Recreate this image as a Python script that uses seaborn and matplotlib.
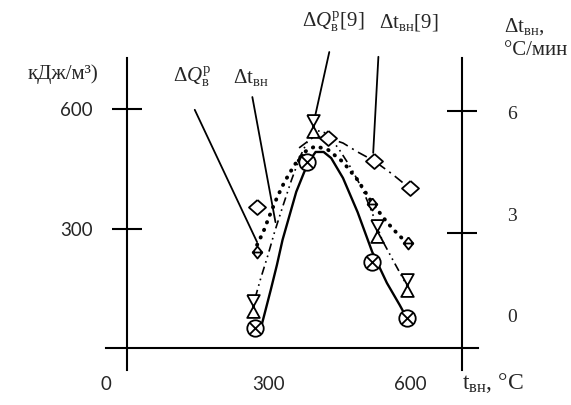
import numpy as np
import matplotlib
matplotlib.use("Agg")
import matplotlib.pyplot as plt
from matplotlib.path import Path
import seaborn as sns

# --- data ---
# dQ (kJ/m3, left axis)
dq_x = [275, 370, 519, 594]
dq_y = [241, 472, 362, 264]
dq_curve_x = [275, 288, 302, 317, 333, 354, 375, 399, 426, 457, 488, 519, 550, 577, 594]
dq_curve_y = [259, 291, 334, 377, 417, 459, 492, 507, 497, 467, 422, 364, 316, 281, 264]

dq9_x = [267, 393, 530, 592]
dq9_y = [105, 557, 294, 158]
dq9_curve_x = [271, 283, 298, 312, 329, 348, 366, 385, 399, 420, 447, 474, 499, 519, 540, 565, 592]
dq9_curve_y = [126, 176, 233, 291, 354, 422, 480, 527, 547, 540, 502, 452, 397, 339, 271, 216, 158]

# dt (degC/min, right axis)
dt_x = [271, 381, 519, 592]
dt_y = [0.66, 4.74, 2.29, 0.91]
dt_curve_x = [281, 292, 304, 317, 329, 344, 358, 375, 387, 399, 416, 432, 457, 488, 519, 550, 577, 592]
dt_curve_y = [0.57, 1.06, 1.60, 2.21, 2.83, 3.44, 4.01, 4.50, 4.79, 4.99, 4.99, 4.84, 4.35, 3.51, 2.53, 1.77, 1.23, 0.91]

dt9_x = [275, 426, 523, 598]
dt9_y = [3.64, 5.33, 4.77, 4.10]
dt9_curve_x = [364, 395, 426, 457, 488, 523, 561, 598]
dt9_curve_y = [5.09, 5.36, 5.33, 5.21, 4.99, 4.77, 4.45, 4.10]

x_ticks = [300, 600]
x_tick_labels = ["300", "600"]
left_ticks = [300, 600]
left_tick_labels = ["300", "600"]
right_ticks = [3, 6]
right_label_pos = [0.96, 3.46, 5.97]
right_labels = ["0", "3", "6"]

# --- markers ---
M, L = Path.MOVETO, Path.LINETO
circ = Path.unit_circle()
cross = Path([(-0.7, -0.7), (0.7, 0.7), (-0.7, 0.7), (0.7, -0.7)], [M, L, M, L])
otimes = Path.make_compound_path(circ, cross)
hourglass = Path([(-0.55, 1), (0.55, 1), (-0.55, -1), (0.55, -1), (-0.55, 1)])
big_diamond = Path([(0, 0.88), (1, 0), (0, -0.88), (-1, 0), (0, 0.88)])
bar_diamond = Path([(0, 1), (0.8, 0), (0, -1), (-0.8, 0), (0, 1), (-0.8, 0), (0.8, 0)],
                   [M, L, L, L, L, M, L])

sns.set_style("white")
plt.rcParams["font.family"] = ["Liberation Serif", "DejaVu Serif"]
plt.rcParams["mathtext.fontset"] = "custom"
plt.rcParams["mathtext.rm"] = "Liberation Serif"
plt.rcParams["mathtext.it"] = "Liberation Serif:italic"

fig = plt.figure(figsize=(5.71, 4.05), dpi=100)
ax = fig.add_axes([106 / 571, 35 / 405, 372 / 571, 312 / 405])
ax2 = ax.twinx()

ax.set_xlim(-27, 743)
ax.set_ylim(-55, 728)
ax2.set_ylim(-0.37, 7.30)

# curves
sns.lineplot(x=dq_curve_x, y=dq_curve_y, ax=ax, color="black", lw=2.8,
             linestyle=(0, (0.1, 2.0)), dash_capstyle="round", estimator=None, sort=False)
sns.lineplot(x=dq9_curve_x, y=dq9_curve_y, ax=ax, color="black", lw=1.2,
             linestyle=(0, (5, 2.5, 1, 2.5, 1, 2.5)), estimator=None, sort=False)
sns.lineplot(x=dt_curve_x, y=dt_curve_y, ax=ax2, color="black", lw=1.7,
             linestyle="-", estimator=None, sort=False)
sns.lineplot(x=dt9_curve_x, y=dt9_curve_y, ax=ax2, color="black", lw=1.2,
             linestyle=(0, (6, 3, 1.2, 3)), estimator=None, sort=False)

# markers
mk = dict(color="white", edgecolor="black", linewidth=1.3, zorder=4, clip_on=False)
sns.scatterplot(x=dq_x, y=dq_y, ax=ax, marker=bar_diamond, s=75, **mk)
sns.scatterplot(x=dq9_x, y=dq9_y, ax=ax, marker=hourglass, s=270, **mk)
sns.scatterplot(x=dt_x, y=dt_y, ax=ax2, marker=otimes, s=140, **mk)
sns.scatterplot(x=dt9_x, y=dt9_y, ax=ax2, marker=big_diamond, s=150, **mk)

# axes lines
for sp in ["top", "right"]:
    ax.spines[sp].set_visible(False)
for sp in ["top", "left", "bottom"]:
    ax2.spines[sp].set_visible(False)
ax.spines["left"].set_position(("data", 0))
ax.spines["bottom"].set_position(("data", 0))
ax2.spines["right"].set_position(("data", 710))
for s in [ax.spines["left"], ax.spines["bottom"], ax2.spines["right"]]:
    s.set_linewidth(1.5)
    s.set_color("black")

num_font = "Lato"
ax.set_xticks(x_ticks, labels=x_tick_labels)
ax.set_xticks([-45], labels=["0"], minor=True)
ax.set_yticks(left_ticks, labels=left_tick_labels)
ax.tick_params(axis="both", which="major", direction="inout", length=21.6, width=1.5,
               color="black", labelsize=13.5, labelfontfamily=num_font)
ax.tick_params(axis="x", which="major", pad=9)
ax.tick_params(axis="y", which="major", pad=14)
ax.tick_params(axis="x", which="minor", length=0, pad=20, labelsize=13.5,
               labelfontfamily=num_font)

ax2.set_yticks(right_ticks)
ax2.set_yticks(right_label_pos, labels=right_labels, minor=True)
ax2.tick_params(axis="y", which="major", direction="inout", length=21.6, width=1.5,
                color="black", labelright=False)
ax2.tick_params(axis="y", which="minor", length=0, pad=32, labelsize=14)

# leaders
lead = dict(arrowstyle="-", color="black", lw=1.3, shrinkA=0, shrinkB=0)
for start, end in [((143, 598), (275, 266)), ((265, 630), (314, 316)),
                   ((428, 743), (397, 577)), ((532, 731), (521, 490))]:
    ax.annotate("", xy=end, xytext=start, arrowprops=lead, annotation_clip=False)

fs = 15
ax.text(-135, 688, "кДж/м³)", fontsize=fs, ha="center", va="center")
ax.text(137, 680, r"$\Delta Q_{\mathrm{в}}^{\mathrm{р}}$", fontsize=fs, ha="center", va="center")
ax.text(261, 680, r"$\Delta\mathrm{t}_{\mathrm{вн}}$", fontsize=fs, ha="center", va="center")
ax.text(437, 818, r"$\Delta Q_{\mathrm{в}}^{\mathrm{р}}\mathrm{[9]}$", fontsize=fs,
        ha="center", va="center")
ax.text(596, 818, r"$\Delta\mathrm{t}_{\mathrm{вн}}\mathrm{[9]}$", fontsize=fs,
        ha="center", va="center")
ax.text(799, 808, r"$\Delta\mathrm{t}_{\mathrm{вн}}$,", fontsize=fs, ha="left", va="center")
ax.text(799, 748, "°C/мин", fontsize=fs, ha="left", va="center")
ax.text(710, -88, r"$\mathrm{t}_{\mathrm{вн}}$, °C", fontsize=17, ha="left", va="center")

fig.savefig("out.png", dpi=100, facecolor="white")
